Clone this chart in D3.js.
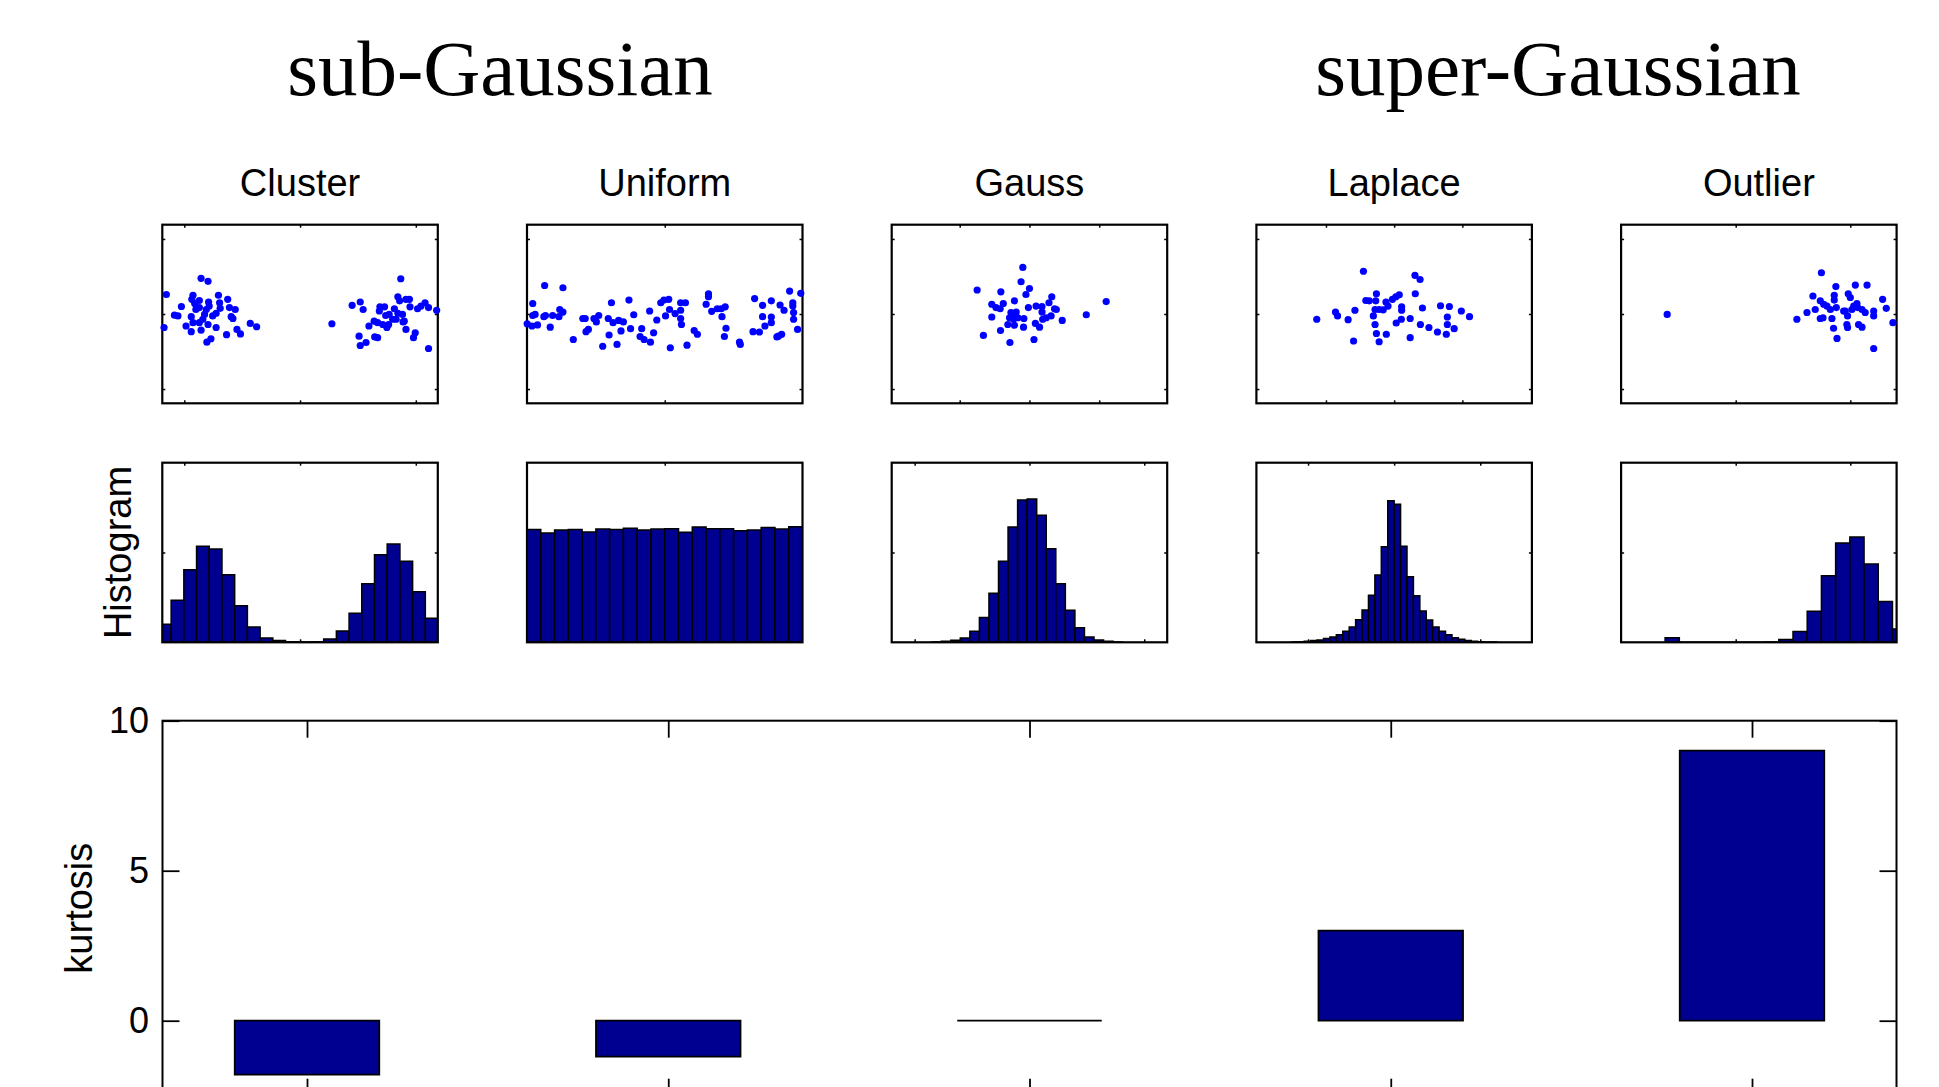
<!DOCTYPE html>
<html>
<head>
<meta charset="utf-8">
<script src="https://cdn.jsdelivr.net/npm/d3@7"></script>
<style>
  html, body { margin: 0; padding: 0; background: #fff; }
  svg { display: block; }
</style>
</head>
<body>
<svg id="fig" width="1939" height="1087"></svg>
<script>
// ---- data ---------------------------------------------------------------
const columns = ["Cluster", "Uniform", "Gauss", "Laplace", "Outlier"];
const groupTitles = ["sub-Gaussian", "super-Gaussian"];

// excess kurtosis of each distribution
const kurtosis = [-1.8, -1.2, 0, 3.0, 9.0];
const kurtosisTicks = [0, 5, 10];

// sample points (x, y) shown in the scatter row
const clusterPoints = [
  [-2.31,0.52],[-2.35,-0.36],[-1.71,0.95],[-1.59,0.87],[-1.85,0.50],[-1.87,0.39],[-1.74,0.36],
  [-1.82,0.28],[-1.58,0.32],[-1.41,0.50],[-1.25,0.39],[-1.39,0.30],[-1.38,0.15],[-1.22,0.17],
  [-1.12,0.12],[-2.05,0.20],[-2.17,-0.03],[-2.11,-0.05],[-1.88,-0.07],[-1.74,0.17],[-1.62,0.12],
  [-1.57,0.21],[-1.65,-0.01],[-1.45,0.02],[-1.19,-0.07],[-1.16,-0.12],[-1.68,-0.14],[-1.74,-0.23],
  [-1.85,-0.23],[-1.97,-0.32],[-1.88,-0.47],[-1.71,-0.43],[-1.59,-0.28],[-1.45,-0.36],[-1.27,-0.55],
  [-1.09,-0.41],[-1.03,-0.53],[-0.86,-0.25],[-0.75,-0.34],[-1.61,-0.75],[-1.54,-0.66],[-1.80,0.12],
  [-1.51,-0.05],
  [0.55,-0.26],[0.90,0.23],[1.04,0.32],[1.09,0.12],[1.19,-0.32],[1.02,-0.59],[1.04,-0.84],
  [1.14,-0.76],[1.29,-0.61],[1.34,-0.63],[1.28,-0.19],[1.37,0.08],[1.38,0.19],[1.46,0.19],
  [1.48,-0.04],[1.43,-0.28],[1.53,-0.28],[1.50,-0.36],[1.63,0.14],[1.69,0.46],[1.72,0.35],
  [1.83,0.39],[1.89,0.39],[1.74,0.94],[1.77,-0.01],[1.78,-0.21],[1.66,-0.14],[1.60,-0.14],
  [1.54,-0.01],[1.90,0.19],[2.03,0.14],[2.09,0.21],[2.16,0.30],[2.22,0.17],[2.36,0.10],
  [1.83,-0.41],[1.99,-0.50],[1.96,-0.63],[2.22,-0.92],[1.80,-0.19],[1.69,0.02],[1.34,-0.23]
];
const uniformPoints = [
  [-1.73,-0.26],[-1.66,0.28],[-1.66,-0.04],[-1.63,-0.01],[-1.67,-0.32],[-1.60,-0.29],[-1.52,-0.07],
  [-1.50,-0.04],[-1.51,0.76],[-1.44,-0.35],[-1.41,-0.04],[-1.33,-0.07],[-1.32,0.12],[-1.28,0.05],
  [-1.28,0.70],[-1.15,-0.68],[-1.03,-0.12],[-1.00,-0.12],[-0.99,-0.47],[-0.96,-0.41],[-0.89,-0.12],
  [-0.86,-0.21],[-0.83,-0.04],[-0.78,-0.86],[-0.71,-0.12],[-0.70,-0.56],[-0.67,0.30],[-0.65,-0.23],
  [-0.60,-0.81],[-0.58,-0.17],[-0.55,-0.45],[-0.52,-0.21],[-0.45,0.37],[-0.43,-0.39],[-0.39,-0.02],
  [-0.29,-0.39],[-0.31,-0.60],[-0.26,-0.68],[-0.19,0.08],[-0.18,-0.75],[-0.14,-0.50],[-0.10,-0.16],
  [-0.05,0.30],[-0.01,0.37],[0.01,-0.05],[0.05,0.39],[0.06,0.12],[0.07,-0.90],[0.13,0.01],
  [0.20,0.30],[0.20,0.10],[0.20,-0.12],[0.21,-0.28],[0.26,0.30],[0.28,-0.83],[0.37,-0.44],
  [0.41,-0.54],[0.52,0.26],[0.55,0.54],[0.55,0.46],[0.59,0.07],[0.66,0.14],[0.71,0.14],
  [0.72,-0.07],[0.76,0.19],[0.77,-0.38],[0.75,-0.60],[0.94,-0.75],[0.95,-0.81],[1.11,-0.47],
  [1.13,0.41],[1.19,-0.48],[1.23,0.23],[1.23,-0.07],[1.26,-0.32],[1.34,0.35],[1.34,-0.08],
  [1.34,-0.23],[1.41,-0.61],[1.43,-0.59],[1.47,-0.54],[1.45,0.24],[1.50,0.10],[1.57,0.61],
  [1.61,0.30],[1.61,0.21],[1.62,0.04],[1.62,-0.14],[1.67,-0.41],[1.71,0.55]
];
const gaussPoints = [
  [-0.19,1.24],[-0.24,0.86],[0.00,0.68],[-0.10,0.52],[-1.50,0.64],[-0.82,0.59],[0.64,0.46],
  [-0.43,0.35],[-1.08,0.26],[-0.75,0.28],[-0.96,0.17],[-0.84,0.14],[-0.03,0.17],[0.19,0.21],
  [0.36,0.20],[0.56,0.30],[0.72,0.14],[0.77,0.12],[0.36,0.05],[-0.53,0.04],[-0.41,-0.01],
  [-0.33,-0.10],[-0.46,-0.14],[-0.57,-0.10],[-0.62,-0.28],[-0.43,-0.30],[-0.16,-0.12],[-0.17,-0.35],
  [0.17,-0.25],[0.29,-0.35],[0.38,-0.14],[0.48,-0.10],[0.62,-0.05],[0.94,-0.17],[1.63,-0.02],
  [2.20,0.33],[-1.08,-0.08],[-1.32,-0.57],[-0.83,-0.44],[-0.56,-0.76],[0.13,-0.68],[-0.38,0.05]
];
const laplacePoints = [
  [-0.90,1.14],[0.61,1.03],[0.76,0.92],[-0.52,0.54],[0.62,0.54],[-0.83,0.36],[-0.73,0.35],
  [-0.54,0.35],[-0.24,0.32],[-0.05,0.39],[0.05,0.46],[0.15,0.51],[-0.18,0.21],[-0.44,0.12],
  [-0.56,0.12],[-0.32,0.11],[0.22,0.19],[0.22,0.10],[0.83,0.16],[1.36,0.22],[1.62,0.20],
  [1.97,0.08],[2.21,-0.07],[1.56,-0.08],[1.56,-0.28],[1.76,-0.39],[1.53,-0.54],[1.27,-0.48],
  [1.02,-0.36],[0.77,-0.28],[0.47,-0.12],[0.21,-0.14],[0.06,-0.24],[-0.56,-0.28],[-0.61,-0.05],
  [-0.52,-0.52],[-0.23,-0.54],[-0.44,-0.74],[0.47,-0.63],[-1.19,-0.72],[-1.35,-0.15],[-1.15,0.10],
  [-1.72,0.05],[-1.66,-0.05],[-2.27,-0.14]
];
const outlierPoints = [
  [-7.99,-0.01],[-1.26,1.10],[-0.63,0.73],[0.22,0.77],[0.73,0.77],[-1.63,0.48],[-0.70,0.50],
  [-0.09,0.54],[0.00,0.44],[1.41,0.39],[1.57,0.15],[-1.31,0.35],[-1.16,0.26],[-1.02,0.21],
  [-1.53,0.12],[-1.89,0.04],[-2.33,-0.14],[-1.31,-0.12],[-1.19,-0.10],[-0.80,-0.12],[-0.70,0.37],
  [-0.61,0.17],[-0.29,0.08],[-0.12,-0.05],[0.07,0.12],[0.29,0.28],[0.32,0.17],[0.51,0.12],
  [0.65,0.04],[1.02,0.08],[1.02,-0.05],[1.86,-0.23],[-0.15,-0.28],[-0.12,-0.36],[0.36,-0.28],
  [0.51,-0.35],[-0.73,-0.38],[-0.58,-0.65],[1.02,-0.92],[-0.22,0.08],[0.15,0.21],[-0.87,0.12]
];
const scatterPoints = [clusterPoints, uniformPoints, gaussPoints, laplacePoints, outlierPoints];

// histogram counts (10000 samples each), bins of equal width
const clusterHist = [200, 468, 809, 1069, 1039, 753, 408, 171, 48, 19, 7, 4, 7, 37, 126, 323, 653, 976, 1095, 902, 564, 267];
const uniformHist = [503, 487, 500, 503, 491, 505, 503, 508, 500, 505, 506, 490, 514, 506, 506, 497, 500, 511, 505, 515];
const gaussHist = [4, 11, 22, 48, 122, 275, 545, 902, 1284, 1584, 1596, 1414, 1043, 653, 356, 163, 59, 26, 11, 4];
const laplaceHist = [4, 7, 11, 19, 26, 41, 59, 85, 122, 171, 252, 360, 523, 750, 1065, 1577,
                     1536, 1069, 731, 519, 349, 249, 171, 122, 85, 52, 33, 19, 11, 7, 4, 4];
const outlierHist = [52, 0, 0, 0, 0, 0, 0, 4, 30, 119, 345, 742, 1106, 1173, 872, 453, 148];
const histCounts = [clusterHist, uniformHist, gaussHist, laplaceHist, outlierHist];
const histBinStart = [-2.447, -1.732, -4.26, -5.968, -8.08];
const histBinWidth = [0.2196, 0.1732, 0.416, 0.373, 0.62];

// axis limits and ticks of the small panels
const scatterXDomains = [[-2.38, 2.38], [-1.732, 1.732], [-3.95, 3.95], [-4.04, 4.04], [-10, 2.02]];
const scatterXTicks = [[-2, 0, 2], [0], [-2, 0, 2], [-2, 0, 2], [-5, 0]];
const scatterYDomain = [-2.38, 2.38];
const scatterYTicks = [-2, 0, 2];
const histXDomains = [[-2.38, 2.38], [-1.732, 1.732], [-6, 6], [-8, 8], [-10, 2.02]];
const histXTicks = [[-2, 0, 2], [0], [-5, 0, 5], [-5, 0, 5], [-5, 0]];
const histYMax = [2000, 800, 2000, 2000, 2000];
const histYTicks = [[1000], [], [1000], [1000], [1000]];

// ---- layout -------------------------------------------------------------
const SANS = "'Liberation Sans', Arial, Helvetica, sans-serif";
const SERIF = "'Liberation Serif', 'Times New Roman', Times, serif";
const BAR_FILL = "#000090";
const DOT_FILL = "#0000ff";

const colLeft = 162.3, colStep = 364.7, panelW = 275.5;
const scatterTop = 224.7, scatterH = 178.6;
const histTop = 462.7, histH = 179.6;
const barLeft = 162.5, barRight = 1896.5, barTop = 720.7, barBottom = 1095.7;

const svg = d3.select("#fig");

// titles of the two groups
const groupCenters = [500, 1558];
svg.selectAll("text.group").data(groupTitles).join("text")
  .attr("class", "group")
  .attr("x", (d, i) => groupCenters[i]).attr("y", 95)
  .attr("text-anchor", "middle")
  .style("font-family", SERIF).style("font-size", "79px")
  .text(d => d);

// inward ticks on all four sides of a panel
function drawFrame(g, x, y, w, h, xs, ys, xTicks, yTicks, len) {
  const tick = (axis, tx, ty) => {
    const a = g.append("g").attr("transform", `translate(${tx},${ty})`)
      .call(axis.tickSizeInner(-len).tickSizeOuter(0).tickFormat(() => ""));
    a.select(".domain").remove();
    a.selectAll(".tick line").attr("stroke", "#000").attr("stroke-width", 1.5);
  };
  tick(d3.axisTop(xs).tickValues(xTicks), 0, y);
  tick(d3.axisBottom(xs).tickValues(xTicks), 0, y + h);
  tick(d3.axisLeft(ys).tickValues(yTicks), x, 0);
  tick(d3.axisRight(ys).tickValues(yTicks), x + w, 0);
}
function drawBox(g, x, y, w, h) {
  g.append("rect").attr("x", x).attr("y", y).attr("width", w).attr("height", h)
    .attr("fill", "none").attr("stroke", "#000").attr("stroke-width", 2.2);
}

const defs = svg.append("defs");

columns.forEach((name, i) => {
  const x0 = colLeft + i * colStep;

  // column title
  svg.append("text")
    .attr("x", x0 + panelW / 2).attr("y", 196)
    .attr("text-anchor", "middle")
    .style("font-family", SANS).style("font-size", "38px")
    .text(name);

  // scatter of samples
  const gs = svg.append("g");
  const sx = d3.scaleLinear().domain(scatterXDomains[i]).range([x0, x0 + panelW]);
  const sy = d3.scaleLinear().domain(scatterYDomain).range([scatterTop + scatterH, scatterTop]);
  drawFrame(gs, x0, scatterTop, panelW, scatterH, sx, sy, scatterXTicks[i], scatterYTicks, 3);
  drawBox(gs, x0, scatterTop, panelW, scatterH);
  gs.selectAll("circle").data(scatterPoints[i]).join("circle")
    .attr("cx", d => sx(d[0])).attr("cy", d => sy(d[1]))
    .attr("r", 3.6).attr("fill", DOT_FILL);

  // histogram
  const gh = svg.append("g");
  const hx = d3.scaleLinear().domain(histXDomains[i]).range([x0, x0 + panelW]);
  const hy = d3.scaleLinear().domain([0, histYMax[i]]).range([histTop + histH, histTop]);
  drawFrame(gh, x0, histTop, panelW, histH, hx, hy, histXTicks[i], histYTicks[i], 3);
  const clipId = "hclip" + i;
  defs.append("clipPath").attr("id", clipId).append("rect")
    .attr("x", x0).attr("y", histTop - 2).attr("width", panelW).attr("height", histH + 4);
  gh.append("g").attr("clip-path", `url(#${clipId})`)
    .selectAll("path").data(histCounts[i]).join("path")
    .attr("d", (c, k) => {
      const a = hx(histBinStart[i] + k * histBinWidth[i]);
      const b = hx(histBinStart[i] + (k + 1) * histBinWidth[i]);
      const yb = hy(0), yt = hy(c);
      return `M${a},${yb}V${yt}H${b}V${yb}Z`;
    })
    .attr("fill", BAR_FILL).attr("stroke", "#000").attr("stroke-width", 1.5);
  drawBox(gh, x0, histTop, panelW, histH);
});

// row label of the histograms
svg.append("text")
  .attr("transform", `translate(131,${histTop + histH / 2}) rotate(-90)`)
  .attr("text-anchor", "middle")
  .style("font-family", SANS).style("font-size", "38px")
  .text("Histogram");

// ---- kurtosis bar chart -------------------------------------------------
const bx = d3.scaleLinear().domain([0.6, 5.4]).range([barLeft, barRight]);
const by = d3.scaleLinear().domain([-2.5, 10]).range([barBottom, barTop]);
const gb = svg.append("g");
const cats = columns.map((c, i) => i + 1);

const tickAxis = (axis, tx, ty) => {
  const a = gb.append("g").attr("transform", `translate(${tx},${ty})`).call(axis);
  a.select(".domain").remove();
  a.selectAll(".tick line").attr("stroke", "#000").attr("stroke-width", 1.8);
  return a;
};
tickAxis(d3.axisTop(bx).tickValues(cats).tickSizeInner(-17).tickSizeOuter(0).tickFormat(() => ""), 0, barTop);
tickAxis(d3.axisBottom(bx).tickValues(cats).tickSizeInner(-17).tickSizeOuter(0).tickFormat(() => ""), 0, barBottom);
tickAxis(d3.axisRight(by).tickValues(kurtosisTicks).tickSizeInner(-17).tickSizeOuter(0).tickFormat(() => ""), barRight, 0);
const yl = tickAxis(d3.axisLeft(by).tickValues(kurtosisTicks).tickSizeInner(-17).tickSizeOuter(0).tickPadding(13.5), barLeft, 0);
yl.selectAll(".tick text").attr("fill", "#000")
  .style("font-family", SANS).style("font-size", "36px");

gb.selectAll("path.kbar").data(kurtosis).join("path")
  .attr("class", "kbar")
  .attr("d", (v, i) => {
    const a = bx(i + 1 - 0.2), b = bx(i + 1 + 0.2);
    return `M${a},${by(0)}V${by(v)}H${b}V${by(0)}Z`;
  })
  .attr("fill", BAR_FILL).attr("stroke", "#000").attr("stroke-width", 1.8);

gb.append("rect").attr("x", barLeft).attr("y", barTop)
  .attr("width", barRight - barLeft).attr("height", barBottom - barTop)
  .attr("fill", "none").attr("stroke", "#000").attr("stroke-width", 2);

svg.append("text")
  .attr("transform", `translate(91.7,${(barTop + barBottom) / 2}) rotate(-90)`)
  .attr("text-anchor", "middle")
  .style("font-family", SANS).style("font-size", "38px")
  .text("kurtosis");
</script>
</body>
</html>
